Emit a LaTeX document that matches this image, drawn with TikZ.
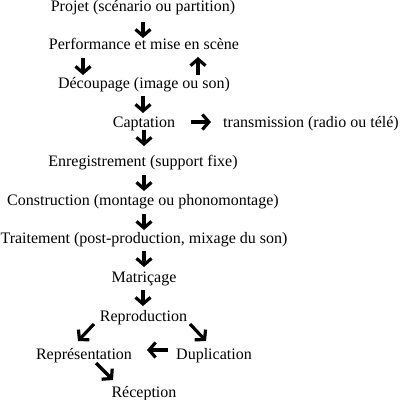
\documentclass[tikz,border=0pt]{standalone}
\usepackage{fontspec}
\setmainfont{Liberation Serif}
\usetikzlibrary{arrows.meta}
\begin{document}
\begin{tikzpicture}[x=1pt,y=-1pt,
  lbl/.style={anchor=base,inner sep=0pt,font=\fontsize{16}{19}\selectfont},
  bigarrow/.style={line width=3.2pt,-{Straight Barb[length=6.5pt,width=15pt,line width=3.2pt]}}]
\useasboundingbox (0,0) rectangle (400,400);
\node[lbl] (projet) at (143,11) {Projet (scénario ou partition)};
\node[lbl] (perf) at (144,49.5) {Performance et mise en scène};
\node[lbl] (decoup) at (144,88) {Découpage (image ou son)};
\node[lbl] (capt) at (144,127) {Captation};
\node[lbl] (trans) at (311,127) {transmission (radio ou télé)};
\node[lbl] (enreg) at (143,166) {Enregistrement (support fixe)};
\node[lbl] (constr) at (143,205) {Construction (montage ou phonomontage)};
\node[lbl] (trait) at (144,243.5) {Traitement (post-production, mixage du son)};
\node[lbl] (matr) at (144,282) {Matriçage};
\node[lbl] (repro) at (143.5,321) {Reproduction};
\node[lbl] (repr) at (84,359.5) {Représentation};
\node[lbl] (dupl) at (214,359.5) {Duplication};
\node[lbl] (recep) at (144,397.5) {Réception};
% arrow end points
\coordinate (a1s) at (143,22); \coordinate (a1e) at (143,38);
\coordinate (a2s) at (83,58); \coordinate (a2e) at (83,75);
\coordinate (a3s) at (198,75); \coordinate (a3e) at (198,57);
\coordinate (a4s) at (143,96); \coordinate (a4e) at (143,113);
\coordinate (a5s) at (191,122); \coordinate (a5e) at (211,122);
\coordinate (a6s) at (144,130); \coordinate (a6e) at (144,146);
\coordinate (a7s) at (144,175); \coordinate (a7e) at (144,191);
\coordinate (a8s) at (144,214); \coordinate (a8e) at (144,230);
\coordinate (a9s) at (144,251); \coordinate (a9e) at (144,267);
\coordinate (a10s) at (143,290); \coordinate (a10e) at (143,306);
\coordinate (a11s) at (94,324); \coordinate (a11e) at (78,341);
\coordinate (a12s) at (190,324); \coordinate (a12e) at (206,341);
\coordinate (a13s) at (168,350); \coordinate (a13e) at (147,350);
\coordinate (a14s) at (96,363); \coordinate (a14e) at (113,380);
\foreach \i in {1,...,14} \draw[bigarrow] (a\i s) -- (a\i e);
\end{tikzpicture}
\end{document}
